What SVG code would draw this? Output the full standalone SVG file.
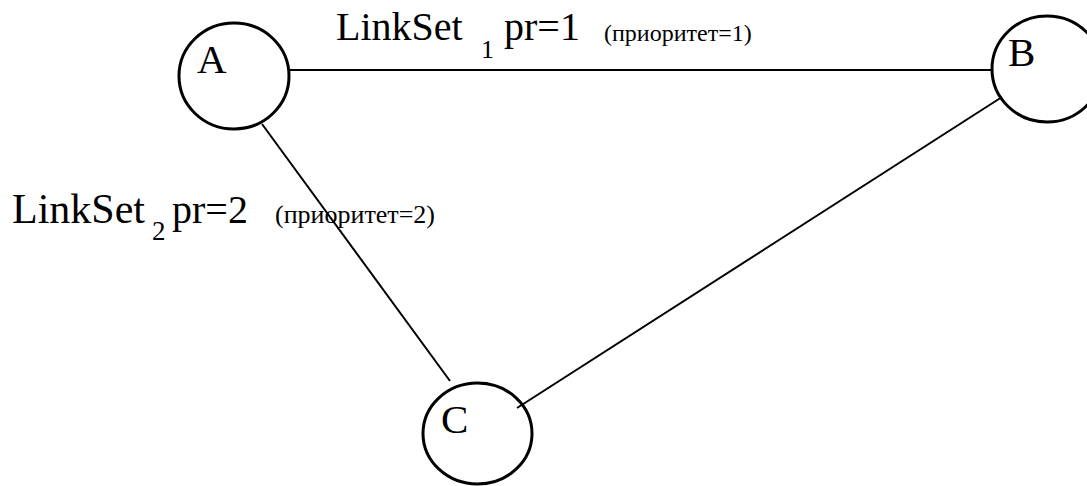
<svg xmlns="http://www.w3.org/2000/svg" width="1087" height="486" viewBox="0 0 1087 486">
<style>
.node{fill:none;stroke:#000;stroke-width:3}
.edge{stroke:#000;stroke-width:2;fill:none}
text{font-family:"Liberation Serif","Times New Roman",serif;fill:#000}
</style>
<rect width="1087" height="486" fill="#fff"/>
<g id="connectors">
<line class="edge" x1="289" y1="70" x2="992" y2="70"/>
<line class="edge" x1="262" y1="124" x2="450" y2="381"/>
<line class="edge" x1="1002" y1="97" x2="517" y2="408"/>
</g>
<g id="node-A">
<ellipse class="node" cx="234" cy="76" rx="55" ry="53"/>
<text x="197" y="73" font-size="41">A</text>
</g>
<g id="node-B">
<ellipse class="node" cx="1047" cy="69" rx="55" ry="53"/>
<text x="1008" y="66" font-size="41">B</text>
</g>
<g id="node-C">
<ellipse class="node" cx="477.5" cy="433.5" rx="54.5" ry="50.5"/>
<text x="441" y="433" font-size="41">C</text>
</g>
<g id="label-1">
<text x="336" y="40" font-size="40">LinkSet</text>
<text x="481" y="58" font-size="26">1</text>
<text x="504" y="40" font-size="40">pr=1</text>
<text x="604" y="41" font-size="24">(приоритет=1)</text>
</g>
<g id="label-2">
<text x="12" y="223" font-size="42">LinkSet</text>
<text x="152" y="240" font-size="27">2</text>
<text x="172" y="223" font-size="40">pr=2</text>
<text x="275" y="223" font-size="26">(приоритет=2)</text>
</g>
</svg>
